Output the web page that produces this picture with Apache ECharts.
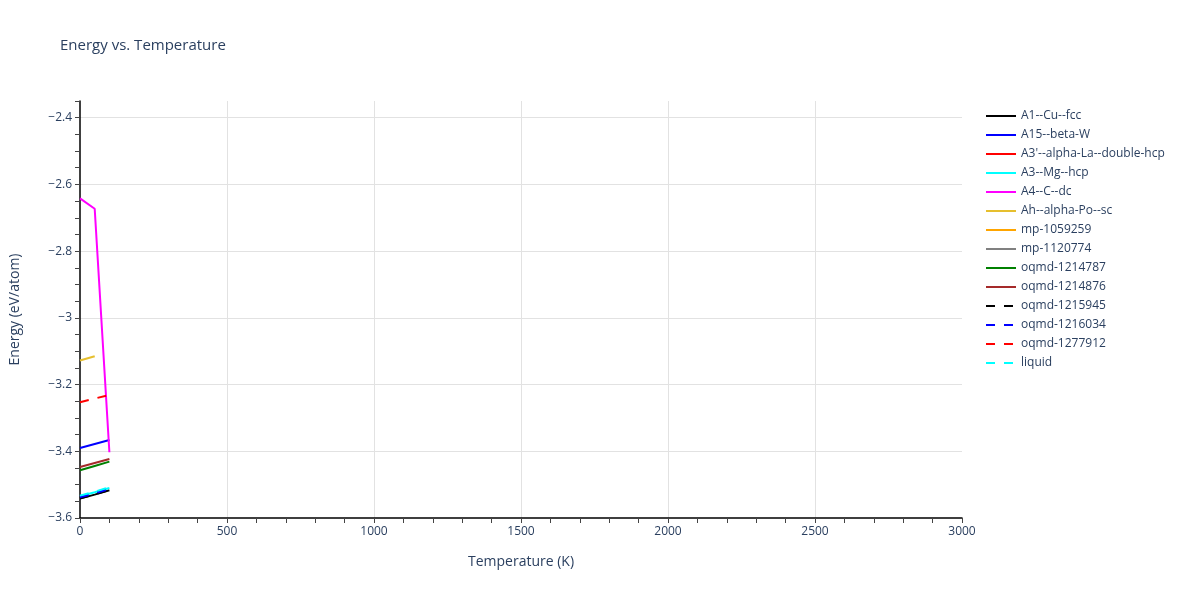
<!DOCTYPE html>
<html><head><meta charset="utf-8">
<script src="https://cdn.jsdelivr.net/npm/echarts@6/dist/echarts.min.js"></script>
<style>html,body{margin:0;padding:0;background:#fff}#c{width:1200px;height:600px}</style>
</head><body><div id="c"></div>
<script>
const seriesNames = ["A1--Cu--fcc","A15--beta-W","A3'--alpha-La--double-hcp","A3--Mg--hcp","A4--C--dc","Ah--alpha-Po--sc","mp-1059259","mp-1120774","oqmd-1214787","oqmd-1214876","oqmd-1215945","oqmd-1216034","oqmd-1277912","liquid"];
const seriesColors = ["#000000","#0000ff","#ff0000","#00ffff","#ff00ff","#e6bf2e","#ffa500","#808080","#008000","#a52a2a","#000000","#0000ff","#ff0000","#00ffff"];
const seriesDashed = [false,false,false,false,false,false,false,false,false,false,true,true,true,true];
const temps = [0, 50, 100];
const A1_Cu_fcc = [-3.542, -3.530, -3.517];
const A15_beta_W = [-3.390, -3.378, -3.366];
const A3p_alpha_La = [];
const A3_Mg_hcp = [-3.535, -3.523, -3.510];
const A4_C_dc = [-2.642, -2.673, -3.403];
const Ah_alpha_Po = [-3.128, -3.115];
const mp_1059259 = [];
const mp_1120774 = [];
const oqmd_1214787 = [-3.457, -3.444, -3.431];
const oqmd_1214876 = [-3.447, -3.435, -3.423];
const oqmd_1215945 = [-3.541, -3.529, -3.516];
const oqmd_1216034 = [-3.538, -3.526, -3.513];
const oqmd_1277912 = [-3.253, -3.242, -3.231];
const liquid = [-3.533, -3.521, -3.508];
const seriesValues = [A1_Cu_fcc,A15_beta_W,A3p_alpha_La,A3_Mg_hcp,A4_C_dc,Ah_alpha_Po,mp_1059259,mp_1120774,oqmd_1214787,oqmd_1214876,oqmd_1215945,oqmd_1216034,oqmd_1277912,liquid];

const txt = '#2a3f5f';
const font = '"Open Sans", Verdana, Arial, sans-serif';
const fmtY = v => { const k = Math.round(v / 0.05); if (k % 4 !== 0) return ''; return String(Number(v.toFixed(2))).replace('-', '\u2212'); };
const fmtX = v => (Math.round(v) % 500 === 0 ? String(Math.round(v)) : '');

const chart = echarts.init(document.getElementById('c'), null, {renderer: 'canvas'});
chart.setOption({
  animation: false,
  backgroundColor: '#fff',
  textStyle: {fontFamily: font},
  title: {text: 'Energy vs. Temperature', left: 55, top: 33,
    textStyle: {fontFamily: font, fontSize: 15, fontWeight: 'normal', color: txt}},
  legend: {orient: 'vertical', left: 980, top: 105, itemWidth: 30, itemHeight: 14, itemGap: 7,
    itemStyle: {opacity: 0},
    textStyle: {fontFamily: font, fontSize: 12, color: txt},
    data: seriesNames},
  grid: {left: 80, top: 101, width: 882, height: 417, containLabel: false},
  xAxis: [{
    type: 'value', min: 0, max: 3000, interval: 100,
    name: 'Temperature (K)', nameLocation: 'middle', nameGap: 37,
    nameTextStyle: {fontFamily: font, fontSize: 14, color: txt},
    axisLine: {show: true, lineStyle: {color: '#000', width: 1.5}},
    axisTick: {show: true, length: 5, lineStyle: {color: '#444'}},
    axisLabel: {formatter: fmtX, fontFamily: font, fontSize: 12, color: txt, margin: 8, showMaxLabel: true},
    splitLine: {show: false}
  }, {
    type: 'value', min: 0, max: 3000, interval: 500, position: 'bottom',
    axisLine: {show: false}, axisTick: {show: false}, axisLabel: {show: false},
    splitLine: {show: true, showMinLine: false, showMaxLine: false, lineStyle: {color: '#e2e2e2', width: 1}}
  }],
  yAxis: [{
    type: 'value', min: -3.6, max: -2.35, interval: 0.05,
    name: 'Energy (eV/atom)', nameLocation: 'middle', nameGap: 58,
    nameTextStyle: {fontFamily: font, fontSize: 14, color: txt},
    axisLine: {show: true, lineStyle: {color: '#000', width: 1.5}},
    axisTick: {show: true, length: 5, lineStyle: {color: '#444'}},
    axisLabel: {formatter: fmtY, fontFamily: font, fontSize: 12, color: txt, margin: 8},
    splitLine: {show: false}
  }, {
    type: 'value', min: -3.6, max: -2.35, interval: 0.2, position: 'left',
    axisLine: {show: false}, axisTick: {show: false}, axisLabel: {show: false},
    splitLine: {show: true, showMinLine: false, showMaxLine: false, lineStyle: {color: '#e2e2e2', width: 1}}
  }],
  series: seriesNames.map((name, i) => ({
    name: name, type: 'line', xAxisIndex: 0, yAxisIndex: 0,
    data: seriesValues[i].map((v, j) => [temps[j], v]),
    showSymbol: false, symbol: 'none',
    itemStyle: {color: seriesColors[i]},
    lineStyle: {color: seriesColors[i], width: 2, type: seriesDashed[i] ? [9, 9] : 'solid'},
    z: 2 + i
  }))
});
</script></body></html>
